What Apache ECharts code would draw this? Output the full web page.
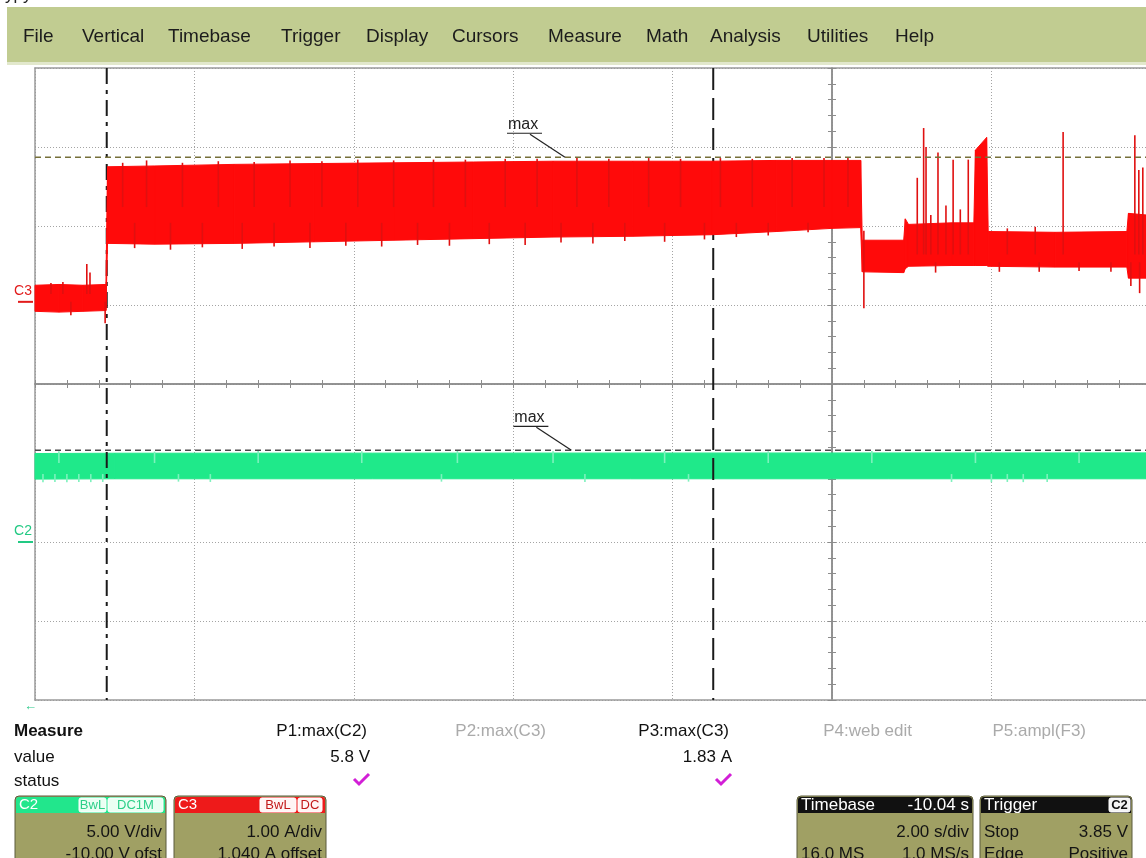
<!DOCTYPE html>
<html>
<head>
<meta charset="utf-8">
<script src="https://cdn.jsdelivr.net/npm/echarts@6/dist/echarts.min.js"></script>
<style>
html, body { margin: 0; padding: 0; background: #fff; }
#main { width: 1146px; height: 858px; }
</style>
</head>
<body>
<div id="main"></div>
<script>
// time = seconds from the left edge of the screen (2 s/div, 13.94 s visible)
// envelopes are [time, min, max]
var c3Envelope = [
    [0.00, -0.12, 0.21], [0.30, -0.13, 0.22], [0.60, -0.12, 0.21], [0.89, -0.11, 0.22],
    [0.91, 0.74, 1.71], [1.50, 0.73, 1.72], [2.50, 0.74, 1.74], [3.50, 0.76, 1.75],
    [4.50, 0.78, 1.76], [5.50, 0.80, 1.77], [6.50, 0.82, 1.78], [7.50, 0.83, 1.78],
    [8.50, 0.85, 1.78], [9.30, 0.89, 1.79], [10.00, 0.93, 1.79], [10.36, 0.94, 1.79],
    [10.38, 0.38, 0.78], [10.90, 0.37, 0.78], [10.92, 0.42, 1.05], [10.96, 0.45, 0.98],
    [11.50, 0.46, 1.00], [11.78, 0.46, 1.00], [11.80, 0.46, 1.92], [11.94, 0.46, 2.08],
    [11.96, 0.45, 0.89], [12.80, 0.44, 0.88], [13.70, 0.44, 0.89], [13.72, 0.30, 1.12],
    [13.94, 0.30, 1.10]
];
var c3Spikes = [
    [0.20, 0.10, 0.24], [0.35, 0.10, 0.25], [0.65, 0.10, 0.48], [0.69, 0.10, 0.37],
    [0.45, -0.17, 0.00], [0.88, -0.27, 0.00],
    [1.10, 1.2, 1.76], [1.40, 1.2, 1.79], [1.85, 1.2, 1.76], [2.30, 1.2, 1.78], [2.75, 1.2, 1.77],
    [3.20, 1.2, 1.79], [3.60, 1.2, 1.78], [4.05, 1.2, 1.80], [4.50, 1.2, 1.79], [5.00, 1.2, 1.80],
    [5.40, 1.2, 1.80], [5.90, 1.2, 1.81], [6.30, 1.2, 1.81], [6.80, 1.2, 1.82], [7.20, 1.2, 1.81],
    [7.70, 1.2, 1.82], [8.10, 1.2, 1.81], [8.60, 1.2, 1.82], [9.00, 1.2, 1.81], [9.50, 1.2, 1.82],
    [9.90, 1.2, 1.82], [10.20, 1.2, 1.83],
    [1.25, 0.68, 1.0], [1.70, 0.66, 1.0], [2.10, 0.69, 1.0], [2.60, 0.67, 1.0], [3.00, 0.70, 1.0],
    [3.45, 0.68, 1.0], [3.90, 0.71, 1.0], [4.35, 0.70, 1.0], [4.80, 0.72, 1.0], [5.20, 0.71, 1.0],
    [5.70, 0.73, 1.0], [6.15, 0.72, 1.0], [6.60, 0.75, 1.0], [7.00, 0.74, 1.0], [7.40, 0.77, 1.0],
    [7.90, 0.76, 1.0], [8.40, 0.79, 1.0], [8.80, 0.82, 1.0], [9.20, 0.84, 1.0], [9.70, 0.88, 1.0],
    [10.40, -0.08, 0.90],
    [11.07, 0.6, 1.57], [11.15, 0.6, 2.20], [11.18, 0.6, 1.96], [11.24, 0.6, 1.10], [11.33, 0.6, 1.89],
    [11.43, 0.6, 1.22], [11.52, 0.6, 1.80], [11.61, 0.6, 1.17], [11.71, 0.6, 1.80],
    [12.20, 0.6, 0.93], [12.55, 0.6, 0.95], [12.90, 0.6, 2.15],
    [13.80, 0.6, 2.11], [13.85, 0.6, 1.67], [13.90, 0.6, 1.70],
    [11.30, 0.37, 0.5], [12.10, 0.38, 0.5], [12.60, 0.38, 0.5], [13.10, 0.39, 0.5], [13.50, 0.38, 0.5],
    [13.75, 0.20, 0.5], [13.86, 0.11, 0.5]
];
var c2Envelope = [
    [0.00, 3.98, 5.60], [1.00, 4.00, 5.62], [13.94, 4.00, 5.64]
];
var c2Spikes = [
    [0.30, 5.0, 5.75], [1.50, 5.0, 5.72], [2.80, 5.0, 5.76], [4.10, 5.0, 5.74], [5.30, 5.0, 5.78],
    [6.50, 5.0, 5.75], [7.90, 5.0, 5.77], [9.20, 5.0, 5.74], [10.50, 5.0, 5.76], [11.80, 5.0, 5.78],
    [13.10, 5.0, 5.75],
    [0.10, 3.78, 4.3], [0.25, 3.80, 4.3], [0.40, 3.78, 4.3], [0.55, 3.80, 4.3], [0.70, 3.79, 4.3],
    [0.85, 3.80, 4.3], [1.80, 3.82, 4.3], [2.20, 3.80, 4.3], [5.10, 3.82, 4.3], [6.90, 3.80, 4.3],
    [8.20, 3.82, 4.3], [11.50, 3.80, 4.3], [12.00, 3.78, 4.3], [12.20, 3.80, 4.3], [12.40, 3.79, 4.3],
    [12.70, 3.80, 4.3]
];
var cursorTimes = [0.90, 8.51];
var c3MaxMark = [6.65, 1.83];
var c2MaxMark = [6.73, 5.8];

var menuItems = ['File', 'Vertical', 'Timebase', 'Trigger', 'Display', 'Cursors', 'Measure', 'Math', 'Analysis', 'Utilities', 'Help'];
var menuX = [23, 82, 168, 281, 366, 452, 548, 646, 710, 807, 895];
var measureNames = ['P1:max(C2)', 'P2:max(C3)', 'P3:max(C3)', 'P4:web edit', 'P5:ampl(F3)'];
var measureValues = ['5.8 V', '', '1.83 A', '', ''];
var measureRight = [367, 546, 729, 912, 1086];

var FONT = '"Liberation Sans", Arial, sans-serif';
var RED = '#ff0a0a';
var GREEN = '#1fe98a';
var DIV_RIGHT = 1.97; // screen is cut off just short of 7 divisions

var myChart = echarts.init(document.getElementById('main'));

function bandItem(env, color) {
    return function (params, api) {
        var i = params.dataIndex;
        if (i >= env.length - 1) return;
        var a = env[i], b = env[i + 1];
        var pts = [api.coord([a[0], a[1]]), api.coord([a[0], a[2]]), api.coord([b[0], b[2]]), api.coord([b[0], b[1]])];
        return { type: 'polygon', shape: { points: pts }, style: { fill: color, stroke: color, lineWidth: 1 } };
    };
}
function spikeItem(color) {
    return function (params, api) {
        var p1 = api.coord([api.value(0), api.value(1)]);
        var p2 = api.coord([api.value(0), api.value(2)]);
        return { type: 'line', shape: { x1: p1[0], y1: p1[1], x2: p2[0], y2: p2[1] }, style: { stroke: color, lineWidth: 1.6 } };
    };
}
function maxItem(color) {
    return function (params, api) {
        var cs = params.coordSys;
        var p = api.coord([api.value(0), api.value(1)]);
        return { type: 'group', children: [
            { type: 'line', shape: { x1: cs.x, y1: p[1], x2: cs.x + cs.width, y2: p[1] }, style: { stroke: color, lineWidth: 1.5, lineDash: [6, 4] } },
            { type: 'line', shape: { x1: p[0] - 35, y1: p[1] - 23, x2: p[0], y2: p[1] }, style: { stroke: '#222', lineWidth: 1.2 } },
            { type: 'line', shape: { x1: p[0] - 58, y1: p[1] - 24, x2: p[0] - 23, y2: p[1] - 24 }, style: { stroke: '#222', lineWidth: 1.2 } },
            { type: 'text', x: p[0] - 57, y: p[1] - 25, style: { text: 'max', font: '16px ' + FONT, fill: '#222', align: 'left', verticalAlign: 'bottom' } }
        ] };
    };
}
function markerItem(name, color) {
    return function (params, api) {
        var p = api.coord([api.value(0), api.value(1)]);
        return { type: 'group', children: [
            { type: 'text', x: p[0] - 3, y: p[1] - 11, style: { text: name, font: '14px ' + FONT, fill: color, align: 'right', verticalAlign: 'middle' } },
            { type: 'line', shape: { x1: p[0] - 17, y1: p[1], x2: p[0] - 2, y2: p[1] }, style: { stroke: color, lineWidth: 2 } }
        ] };
    };
}

// graticule: one axis pair for the dotted division lines (and the solid
// left / bottom frame), two pairs of centre axes with ticks every 1/5 division
var AXIS_GREY = '#8c8c8c';
function gridAxis(min, max, pos) {
    return {
        gridIndex: 0, type: 'value', min: min, max: max, interval: 1, position: pos,
        axisLabel: { show: false }, axisTick: { show: false },
        axisLine: { show: true, onZero: false, lineStyle: { color: '#9a9a9a', width: 1.5 } },
        splitLine: { show: true, lineStyle: { color: '#a4a4a4', width: 1, type: [1, 2] } }
    };
}
function tickAxis(min, max, inside, pos) {
    return {
        gridIndex: 0, type: 'value', min: min, max: max, interval: 0.2, position: pos,
        axisLabel: { show: false },
        axisLine: { onZero: true, onZeroAxisIndex: 0, lineStyle: { color: AXIS_GREY, width: 1.5 } },
        axisTick: { show: true, inside: inside, length: 4, lineStyle: { color: AXIS_GREY, width: 1 } },
        splitLine: { show: false }
    };
}

// panel graphics
var graphics = [];
graphics.push({ type: 'text', x: 5, y: 4, style: { text: 'ypy', font: '17px ' + FONT, fill: '#222', verticalAlign: 'bottom' } });
graphics.push({ type: 'rect', shape: { x: 7, y: 7, width: 1139, height: 55 }, style: { fill: '#c1cc91' } });
graphics.push({ type: 'rect', shape: { x: 7, y: 62, width: 1139, height: 3 }, style: { fill: '#e2e8cc' } });
menuItems.forEach(function (m, i) {
    graphics.push({ type: 'text', x: menuX[i], y: 37, style: { text: m, font: '19px ' + FONT, fill: '#1c1c1c', verticalAlign: 'middle' } });
});
graphics.push({ type: 'text', x: 24, y: 706, style: { text: '←', font: '13px ' + FONT, fill: '#2cc98a', verticalAlign: 'middle' } });
graphics.push({ type: 'text', x: 14, y: 731, style: { text: 'Measure', font: 'bold 17px ' + FONT, fill: '#111', verticalAlign: 'middle' } });
graphics.push({ type: 'text', x: 14, y: 757, style: { text: 'value', font: '17px ' + FONT, fill: '#111', verticalAlign: 'middle' } });
graphics.push({ type: 'text', x: 14, y: 781, style: { text: 'status', font: '17px ' + FONT, fill: '#111', verticalAlign: 'middle' } });
measureNames.forEach(function (n, i) {
    var active = measureValues[i] !== '';
    graphics.push({ type: 'text', x: measureRight[i], y: 731, style: { text: n, font: '17px ' + FONT, fill: active ? '#111' : '#aaaaaa', align: 'right', verticalAlign: 'middle' } });
    if (active) {
        var r = measureRight[i] + 3;
        graphics.push({ type: 'text', x: r, y: 757, style: { text: measureValues[i], font: '17px ' + FONT, fill: '#111', align: 'right', verticalAlign: 'middle' } });
        graphics.push({ type: 'polyline', shape: { points: [[r - 16, 779], [r - 11, 784], [r - 1, 774]] }, style: { stroke: '#d21fd6', lineWidth: 3, fill: null } });
    }
});

var BODY = '#a0a064';
function box(x, w, head, title, right, badges, rows) {
    graphics.push({ type: 'rect', shape: { x: x, y: 796, width: w, height: 70, r: 4 }, style: { fill: BODY, stroke: '#5b5b3c', lineWidth: 1 } });
    graphics.push({ type: 'rect', shape: { x: x + 1, y: 797, width: w - 2, height: 16, r: [3, 3, 0, 0] }, style: { fill: head } });
    graphics.push({ type: 'text', x: x + 4, y: 805, style: { text: title, font: (head === '#111' ? '17px ' : '15px ') + FONT, fill: '#fff', verticalAlign: 'middle' } });
    if (right) {
        graphics.push({ type: 'text', x: x + w - 4, y: 805, style: { text: right, font: '17px ' + FONT, fill: '#fff', align: 'right', verticalAlign: 'middle' } });
    }
    badges.forEach(function (b) {
        graphics.push({ type: 'rect', shape: { x: b[0], y: 798, width: b[1], height: 14, r: 2 }, style: { fill: b[3], stroke: '#fff', lineWidth: 1 } });
        graphics.push({ type: 'text', x: b[0] + b[1] / 2, y: 805, style: { text: b[2], font: (b[5] || '') + '13px ' + FONT, fill: b[4], align: 'center', verticalAlign: 'middle' } });
    });
    rows.forEach(function (row, j) {
        var y = 832 + j * 22;
        if (row[0]) graphics.push({ type: 'text', x: x + 4, y: y, style: { text: row[0], font: '17px ' + FONT, fill: '#141414', verticalAlign: 'middle' } });
        graphics.push({ type: 'text', x: x + w - 4, y: y, style: { text: row[1], font: '17px ' + FONT, fill: '#141414', align: 'right', verticalAlign: 'middle' } });
    });
}
box(15, 151, '#22e68c', 'C2', null, [[79, 27, 'BwL', '#eafff3', '#2ccf88'], [108, 55, 'DC1M', '#eafff3', '#2ccf88']], [['', '5.00 V/div'], ['', '-10.00 V ofst']]);
box(174, 152, '#ee1a1a', 'C3', null, [[260, 36, 'BwL', '#fff4f4', '#c21818'], [298, 24, 'DC', '#fff4f4', '#c21818']], [['', '1.00 A/div'], ['', '1.040 A offset']]);
box(797, 176, '#111', 'Timebase', '-10.04 s', [], [['', '2.00 s/div'], ['16.0 MS', '1.0 MS/s']]);
box(980, 152, '#111', 'Trigger', null, [[1109, 21, 'C2', '#f4f4f4', '#111', 'bold ']], [['Stop', '3.85 V'], ['Edge', 'Positive']]);

option = {
    animation: false,
    backgroundColor: '#ffffff',
    grid: { left: 35, top: 68, right: 0, height: 632, show: false },
    xAxis: [
        gridAxis(-5, DIV_RIGHT, 'bottom'),
        tickAxis(-5, DIV_RIGHT, true, 'bottom'),
        tickAxis(-5, DIV_RIGHT, false, 'bottom'),
        // time axis; its line is the top frame of the screen
        { gridIndex: 0, type: 'value', min: 0, max: (DIV_RIGHT + 5) * 2, position: 'top',
          axisLine: { show: true, onZero: false, lineStyle: { color: '#9a9a9a', width: 1.5 } },
          axisTick: { show: false }, axisLabel: { show: false }, splitLine: { show: false } }
    ],
    yAxis: [
        gridAxis(-4, 4, 'left'),
        tickAxis(-4, 4, true, 'left'),
        tickAxis(-4, 4, false, 'left'),
        { gridIndex: 0, type: 'value', min: -5.04, max: 2.96, show: false },
        { gridIndex: 0, type: 'value', min: -10, max: 30, show: false }
    ],
    graphic: graphics,
    series: [
        { type: 'custom', name: 'C2', xAxisIndex: 3, yAxisIndex: 4, z: 2, data: c2Envelope, encode: { x: 0, y: [1, 2] }, renderItem: bandItem(c2Envelope, GREEN) },
        { type: 'custom', name: 'C2 spikes', xAxisIndex: 3, yAxisIndex: 4, z: 2, data: c2Spikes, encode: { x: 0, y: [1, 2] }, renderItem: spikeItem('#7df2bd') },
        { type: 'custom', name: 'cursors', xAxisIndex: 3, yAxisIndex: 3, z: 3, data: cursorTimes.map(function (t) { return [t]; }), encode: { x: 0 },
          renderItem: function (params, api) {
              var cs = params.coordSys;
              var x = api.coord([api.value(0), 0])[0];
              var dash = params.dataIndex === 0 ? [16, 6, 4, 6] : [22, 8];
              return { type: 'line', shape: { x1: x, y1: cs.y, x2: x, y2: cs.y + cs.height }, style: { stroke: '#1a1a1a', lineWidth: 2, lineDash: dash } };
          } },
        { type: 'custom', name: 'C3', xAxisIndex: 3, yAxisIndex: 3, z: 4, data: c3Envelope, encode: { x: 0, y: [1, 2] }, renderItem: bandItem(c3Envelope, RED) },
        { type: 'custom', name: 'C3 spikes', xAxisIndex: 3, yAxisIndex: 3, z: 4, data: c3Spikes, encode: { x: 0, y: [1, 2] }, renderItem: spikeItem('#e01010') },
        { type: 'custom', name: 'C3 max', xAxisIndex: 3, yAxisIndex: 3, z: 5, data: [c3MaxMark], encode: { x: 0, y: 1 }, renderItem: maxItem('#76703a') },
        { type: 'custom', name: 'C2 max', xAxisIndex: 3, yAxisIndex: 4, z: 5, data: [c2MaxMark], encode: { x: 0, y: 1 }, renderItem: maxItem('#4a4a4a') },
        { type: 'custom', name: 'C3 marker', xAxisIndex: 3, yAxisIndex: 3, z: 5, clip: false, data: [[0, 0]], renderItem: markerItem('C3', '#e21b1b') },
        { type: 'custom', name: 'C2 marker', xAxisIndex: 3, yAxisIndex: 4, z: 5, clip: false, data: [[0, 0]], renderItem: markerItem('C2', '#22c983') }
    ]
};

myChart.setOption(option);
</script>
</body>
</html>
